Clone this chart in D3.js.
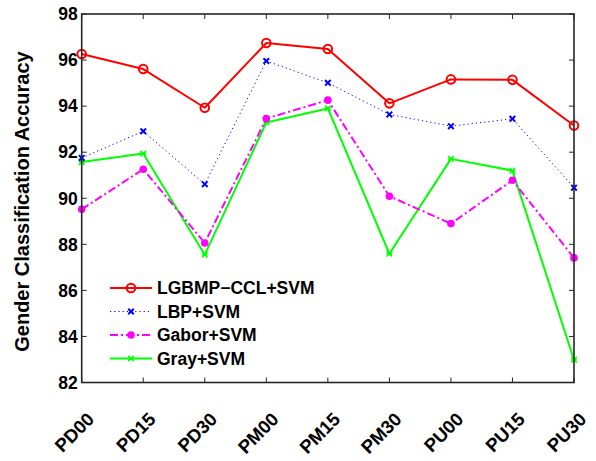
<!DOCTYPE html>
<html><head><meta charset="utf-8">
<script src="https://cdn.jsdelivr.net/npm/d3@7"></script>
<style>body{margin:0;background:#fff;}svg{display:block;font-family:"Liberation Sans",Arial,sans-serif;font-weight:bold;}</style>
</head><body>
<svg id="c" width="596" height="461"></svg>
<script>
const categories = ["PD00","PD15","PD30","PM00","PM15","PM30","PU00","PU15","PU30"];
const lgbmp = [96.26, 95.61, 93.93, 96.74, 96.48, 94.12, 95.16, 95.14, 93.16];
const lbp   = [91.75, 92.91, 90.61, 95.96, 95.01, 93.64, 93.13, 93.45, 90.46];
const gabor = [89.52, 91.26, 88.06, 93.46, 94.26, 90.09, 88.90, 90.78, 87.41];
const gray  = [91.57, 91.94, 87.55, 93.29, 93.90, 87.59, 91.71, 91.20, 82.99];
const yTicks = [82, 84, 86, 88, 90, 92, 94, 96, 98];
const seriesNames = ["LGBMP\u2212CCL+SVM", "LBP+SVM", "Gabor+SVM", "Gray+SVM"];

const series = [
  {name: seriesNames[0], values: lgbmp, color: "#ff0000", width: 2, dash: null, marker: "circle"},
  {name: seriesNames[1], values: lbp, color: "#0000ff", width: 1, dash: "1.2,3", marker: "x"},
  {name: seriesNames[2], values: gabor, color: "#ff00ff", width: 2, dash: "8,3,2,3", marker: "dot"},
  {name: seriesNames[3], values: gray, color: "#00ff00", width: 2, dash: null, marker: "star"}
];

const L = 81.7, R = 574, T = 14, B = 382.5;
const svg = d3.select("#c");
const x = d3.scalePoint().domain(categories).range([L, R]);
const y = d3.scaleLinear().domain([82, 98]).range([B, T]);

const axisColor = "#262626";
const gAx = svg.append("g");
yTicks.forEach(t => {
  gAx.append("line").attr("x1", L).attr("x2", L + 5).attr("y1", y(t)).attr("y2", y(t)).attr("stroke", axisColor).attr("stroke-width", 1);
  gAx.append("line").attr("x1", R).attr("x2", R - 5).attr("y1", y(t)).attr("y2", y(t)).attr("stroke", axisColor).attr("stroke-width", 1);
  gAx.append("text").attr("x", L - 4).attr("y", y(t)).attr("dy", "0.36em").attr("text-anchor", "end")
    .attr("font-size", 17.5).attr("fill", "#000").text(t);
});
categories.forEach(c => {
  gAx.append("line").attr("x1", x(c)).attr("x2", x(c)).attr("y1", B).attr("y2", B - 5).attr("stroke", axisColor).attr("stroke-width", 1);
  gAx.append("line").attr("x1", x(c)).attr("x2", x(c)).attr("y1", T).attr("y2", T + 5).attr("stroke", axisColor).attr("stroke-width", 1);
  gAx.append("text").attr("transform", `translate(${x(c) + 13.5},${B + 38}) rotate(-45)`)
    .attr("text-anchor", "end").attr("font-size", 18.5).attr("fill", "#000").text(c);
});

svg.append("text").attr("transform", `translate(${29},${201.5}) rotate(-90)`)
  .attr("text-anchor", "middle").attr("font-size", 20).attr("fill", "#000").text("Gender Classification Accuracy");

function drawMarker(g, m, cx, cy, color) {
  if (m === "circle") {
    g.append("circle").attr("cx", cx).attr("cy", cy).attr("r", 4.3).attr("fill", "none").attr("stroke", color).attr("stroke-width", 2);
  } else if (m === "dot") {
    g.append("circle").attr("cx", cx).attr("cy", cy).attr("r", 3.8).attr("fill", color);
  } else if (m === "x") {
    const s = 2.8;
    g.append("path").attr("d", `M${cx - s},${cy - s}L${cx + s},${cy + s}M${cx - s},${cy + s}L${cx + s},${cy - s}`)
      .attr("stroke", color).attr("stroke-width", 2);
  } else if (m === "star") {
    const s = 2.8;
    g.append("path").attr("d", `M${cx - s},${cy - s}L${cx + s},${cy + s}M${cx - s},${cy + s}L${cx + s},${cy - s}M${cx - s},${cy}L${cx + s},${cy}`)
      .attr("stroke", color).attr("stroke-width", 1.5);
  }
}

const line = d3.line().x((d, i) => x(categories[i])).y(d => y(d));
const order = [3, 2, 1, 0];
order.forEach(k => {
  const s = series[k];
  const g = svg.append("g");
  g.append("path").datum(s.values).attr("d", line).attr("fill", "none").attr("stroke", s.color)
    .attr("stroke-width", s.width).attr("stroke-dasharray", s.dash).attr("stroke-linejoin", "round");
  s.values.forEach((v, i) => drawMarker(g, s.marker, x(categories[i]), y(v), s.color));
});

svg.append("rect").attr("x", L).attr("y", T).attr("width", R - L).attr("height", B - T)
  .attr("fill", "none").attr("stroke", axisColor).attr("stroke-width", 1.6);

const legY = [288, 311.5, 335, 358.5];
series.forEach((s, i) => {
  const g = svg.append("g");
  g.append("line").attr("x1", 110).attr("x2", 152).attr("y1", legY[i]).attr("y2", legY[i])
    .attr("stroke", s.color).attr("stroke-width", s.width).attr("stroke-dasharray", s.dash);
  drawMarker(g, s.marker, 131, legY[i], s.color);
  g.append("text").attr("x", 157).attr("y", legY[i]).attr("dy", "0.36em").attr("font-size", 17.5).attr("fill", "#000").text(s.name);
});
</script>
</body></html>
